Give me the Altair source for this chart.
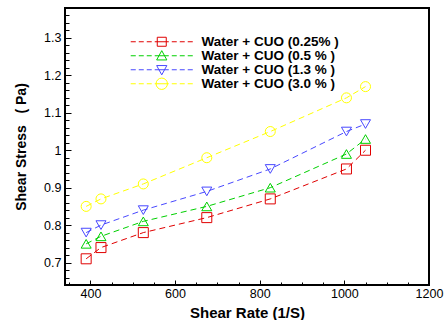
import altair as alt
import pandas as pd

# ---- data ----
shear_rate = [390, 425, 525, 675, 825, 1005, 1050]
series_names = [
    "Water + CUO (0.25% )",
    "Water + CUO (0.5 % )",
    "Water + CUO (1.3 % )",
    "Water + CUO (3.0 % )",
]
stress_025 = [0.71, 0.74, 0.78, 0.82, 0.87, 0.95, 1.00]
stress_05 = [0.75, 0.77, 0.81, 0.85, 0.90, 0.99, 1.03]
stress_13 = [0.78, 0.80, 0.84, 0.89, 0.95, 1.05, 1.07]
stress_30 = [0.85, 0.87, 0.91, 0.98, 1.05, 1.14, 1.17]
series_values = [stress_025, stress_05, stress_13, stress_30]

colors = ["#e00000", "#00d000", "#4848ff", "#ffff00"]
marker_shapes = ["square", "triangle-up", "triangle-down", "circle"]

x_ticks = list(range(350, 1201, 50))
x_labels = [400, 600, 800, 1000, 1200]
y_ticks = [round(0.64 + 0.02 * i, 2) for i in range(38)]
y_labels = [0.7, 0.8, 0.9, 1.0, 1.1, 1.2, 1.3]

# legend symbols: dashed line with the marker in the middle (unit = sqrt(size)/2)
dash = ("M-5.17,0H-4.33M-3.83,0H-3M-2.5,0H-1.67M-1.17,0H1.17"
        "M1.67,0H2.5M3,0H3.83M4.33,0H5.17")
legend_paths = [
    dash + "M-0.75,-0.75H0.75V0.75H-0.75Z",
    dash + "M0,-0.85L0.85,0.7H-0.85Z",
    dash + "M0,0.85L0.85,-0.7H-0.85Z",
    dash + "M0.95,0A0.95,0.95,0,1,1,-0.95,0A0.95,0.95,0,1,1,0.95,0Z",
]

data_keys = ["d0", "d1", "d2", "d3"]
rows = []
for key, vals in zip(data_keys, series_values):
    for xv, yv in zip(shear_rate, vals):
        rows.append({"key": key, "rate": xv, "stress": yv})
df = pd.DataFrame(rows)

domain = series_names + data_keys
color_scale = alt.Scale(domain=domain, range=colors + colors)
shape_scale = alt.Scale(domain=domain, range=legend_paths + marker_shapes)
stroke_scale = alt.Scale(domain=data_keys, range=colors)

FONT = "Liberation Sans"
W, H = 364, 277
x_scale = alt.Scale(domain=[340, 1200], nice=False, zero=False)
y_scale = alt.Scale(domain=[0.64, 1.38], nice=False, zero=False)

# axes carrying labels and titles (no ticks)
x_label_axis = alt.Axis(
    orient="bottom", values=x_labels, labelExpr="'' + datum.value",
    ticks=False, tickSize=0, domain=False, grid=False,
    labelColor="black", labelFont=FONT, labelFontSize=12.5, labelPadding=2,
    labelOverlap=False, labelFlush=False, labelBound=False,
    title="Shear Rate (1/S)", titleFont=FONT, titleFontSize=15,
    titleFontWeight="bold", titleColor="black",
    titleX=182, titleY=27, titleBaseline="middle", titleAlign="center",
)
y_label_axis = alt.Axis(
    orient="left", values=y_labels,
    labelExpr="'' + (round(datum.value*10)/10)",
    ticks=False, tickSize=0, domain=False, grid=False,
    labelColor="black", labelFont=FONT, labelFontSize=12.5, labelPadding=4,
    labelOverlap=False, labelFlush=False, labelBound=False,
    title="Shear Stress\u00a0\u00a0\u00a0( Pa)", titleFont=FONT, titleFontSize=14,
    titleFontWeight="bold", titleColor="black",
    titleX=-44, titleY=138.5, titleAngle=270,
    titleBaseline="middle", titleAlign="center",
)
# axes carrying only the inward ticks (opposite side moved onto the frame)
x_tick_axis = alt.Axis(
    orient="top", offset=-H, values=x_ticks, labels=False, title=None,
    domain=False, grid=False, tickColor="black", tickWidth=1,
    tickSize={"expr": "datum.value % 200 === 0 ? 5 : 3"},
)
y_tick_axis = alt.Axis(
    orient="right", offset=-W, values=y_ticks, labels=False, title=None,
    domain=False, grid=False, tickColor="black", tickWidth=1,
    tickSize={"expr": "abs(datum.value*10 - round(datum.value*10)) < 0.001 ? 6 : 4"},
)

legend = alt.Legend(
    values=series_names, orient="none", legendX=90, legendY=27, title=None,
    padding=0, rowPadding=-2, labelFont=FONT, labelFontSize=13.5,
    labelFontWeight="bold", labelColor="black", labelOffset=33,
    labelLimit=400, symbolSize=144, symbolStrokeWidth=1,
)

base = alt.Chart(df)
lines = base.mark_line(strokeDash=[6, 4], strokeWidth=1).encode(
    x=alt.X("rate:Q", scale=x_scale, axis=x_label_axis),
    y=alt.Y("stress:Q", scale=y_scale, axis=y_label_axis),
    stroke=alt.Stroke("key:N", scale=stroke_scale, legend=None),
)
points = base.mark_point(filled=False, size=100, strokeWidth=1, opacity=1).encode(
    x=alt.X("rate:Q", scale=x_scale, axis=x_tick_axis),
    y=alt.Y("stress:Q", scale=y_scale, axis=y_tick_axis),
    color=alt.Color("key:N", scale=color_scale, legend=legend),
    shape=alt.Shape("key:N", scale=shape_scale, legend=legend),
)

chart = alt.layer(lines, points).resolve_axis(
    x="independent", y="independent"
).properties(
    width=W, height=H,
    autosize=alt.AutoSizeParams(type="none"),
    padding={"left": 65, "top": 8, "right": 16, "bottom": 35},
    background="white",
).configure_view(stroke="black", strokeWidth=2)

chart.save("out.html", embed_options={"renderer": "svg", "actions": False})
